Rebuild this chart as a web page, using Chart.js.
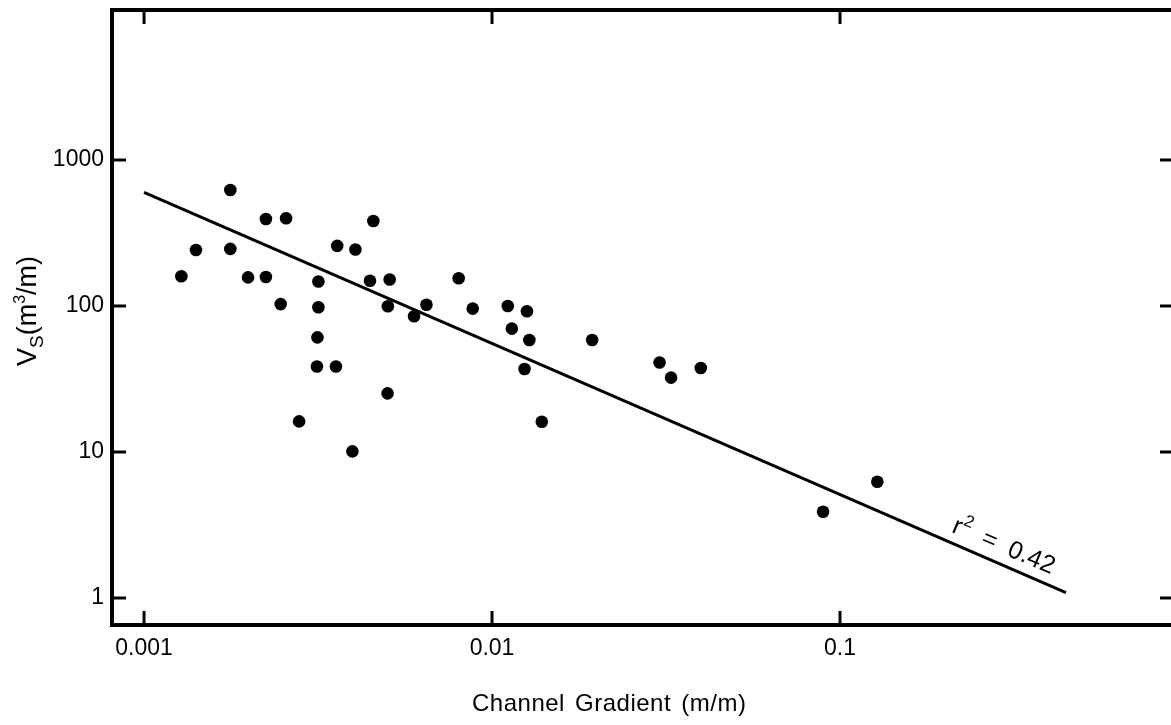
<!DOCTYPE html>
<html><head><meta charset="utf-8">
<script src="https://cdn.jsdelivr.net/npm/chart.js@4.4.0/dist/chart.umd.min.js"></script>
<style>
html,body{margin:0;padding:0;background:#fff;overflow:hidden;}
#wrap{width:1171px;height:725px;overflow:hidden;position:relative;background:#fff;}
canvas{display:block;}
</style></head><body>
<div id="wrap"><canvas id="c" width="1180" height="725" style="width:1180px;height:725px"></canvas></div>
<script>
// Channel gradient (m/m) of each observation
const gradient = [0.00128,0.00141,0.00177,0.00177,0.00199,0.00224,0.00224,0.00247,0.00256,0.00279,
  0.00317,0.00317,0.00315,0.00314,0.00356,0.00359,0.00397,0.00405,0.00446,0.00456,
  0.00501,0.00502,0.00508,0.00597,0.00648,0.00802,0.0088,0.0111,0.0114,0.0124,
  0.0126,0.0128,0.0139,0.0194,0.0303,0.0327,0.0398,0.0894,0.128];
// Vs (m3/m) of each observation
const volume = [160,242,623,246,157,394,158,103,399,16.2,
  147,98,61,38.5,38.5,258,10.1,244,149,382,
  25.2,99.5,152,85,102,155,96,100,70,37,
  92,58.5,16.1,58.5,41,32.3,37.6,3.9,6.26];
// regression line end points
const fitX = [0.001, 0.446];
const fitY = [601, 1.087];
// axes
const xTicks = [0.001, 0.01, 0.1];
const yTicks = [1, 10, 100, 1000];
const xRange = [0.000809, 0.9055];
const yRange = [0.6531, 10651];
const xTitle = 'Channel Gradient (m/m)';
const rAnchor = [0.295, 2.25];
const FONT = '"Liberation Sans", Arial, Helvetica, sans-serif';

const scatterPts = gradient.map((g, i) => ({x: g, y: volume[i]}));
const fitPts = fitX.map((g, i) => ({x: g, y: fitY[i]}));

const decor = {
  id: 'decor',
  afterDraw(chart) {
    const {ctx, chartArea: a, scales: {x, y}} = chart;
    ctx.save();
    ctx.strokeStyle = '#000';
    ctx.fillStyle = '#000';
    ctx.lineCap = 'butt';
    // frame
    ctx.lineWidth = 4;
    ctx.beginPath();
    ctx.moveTo(a.left, a.bottom); ctx.lineTo(a.left, a.top);
    ctx.lineTo(a.right, a.top); ctx.lineTo(a.right, a.bottom); ctx.closePath();
    ctx.stroke();
    // inward ticks
    ctx.lineWidth = 3;
    const seg = (x1, y1, x2, y2) => { ctx.beginPath(); ctx.moveTo(x1, y1); ctx.lineTo(x2, y2); ctx.stroke(); };
    xTicks.forEach(v => { const p = x.getPixelForValue(v); seg(p, a.bottom, p, a.bottom - 14); seg(p, a.top, p, a.top + 14); });
    yTicks.forEach(v => { const p = y.getPixelForValue(v); seg(a.left, p, a.left + 14, p); seg(a.right, p, a.right - 13, p); });
    // x title
    ctx.font = '24px ' + FONT;
    ctx.textAlign = 'left';
    ctx.textBaseline = 'alphabetic';
    try { ctx.letterSpacing = '0.5px'; ctx.wordSpacing = '3px'; } catch (e) {}
    ctx.fillText(xTitle, 472, 711);
    try { ctx.letterSpacing = '0px'; ctx.wordSpacing = '0px'; } catch (e) {}
    // y title: V_S(m³/m)
    ctx.save();
    ctx.translate(36, 366);
    ctx.rotate(-Math.PI / 2);
    let cx = 0;
    const piece = (t, size, dy) => { ctx.font = size + 'px ' + FONT; ctx.fillText(t, cx, dy); cx += ctx.measureText(t).width; };
    piece('V', 27, 0);
    piece('S', 19, 7);
    piece('(m', 27, 0);
    piece('3', 16, -11);
    piece('/m)', 27, 0);
    ctx.restore();
    // r² label along the fit line
    const x0 = x.getPixelForValue(fitX[0]), y0 = y.getPixelForValue(fitY[0]);
    const x1 = x.getPixelForValue(fitX[1]), y1 = y.getPixelForValue(fitY[1]);
    const ang = Math.atan2(y1 - y0, x1 - x0) - 0.01;
    ctx.save();
    ctx.translate(x.getPixelForValue(rAnchor[0]), y.getPixelForValue(rAnchor[1]));
    ctx.rotate(ang);
    ctx.textBaseline = 'middle';
    const parts = [['r', 25, 0], ['2', 17, -9], ['  =  0.42', 25, 0]];
    let w = 0;
    parts.forEach(p => { ctx.font = p[1] + 'px ' + FONT; w += ctx.measureText(p[0]).width; });
    cx = -w / 2;
    parts.forEach(p => { ctx.font = p[1] + 'px ' + FONT; ctx.fillText(p[0], cx, p[2]); cx += ctx.measureText(p[0]).width; });
    ctx.restore();
    ctx.restore();
  }
};

new Chart(document.getElementById('c'), {
  type: 'scatter',
  data: {
    datasets: [
      {data: scatterPts, backgroundColor: '#000', borderWidth: 0, pointRadius: 6.3, pointHoverRadius: 6.3},
      {type: 'line', data: fitPts, showLine: true, borderColor: '#000', borderWidth: 3, pointRadius: 0, fill: false}
    ]
  },
  options: {
    responsive: false,
    animation: false,
    events: [],
    layout: {padding: {top: 10, right: 7, bottom: 0, left: 0}},
    plugins: {legend: {display: false}, tooltip: {enabled: false}},
    scales: {
      x: {
        type: 'logarithmic', min: xRange[0], max: xRange[1], bounds: 'data',
        grid: {display: false, drawTicks: false}, border: {display: false},
        afterBuildTicks: s => { s.ticks = xTicks.map(v => ({value: v})); },
        afterFit: s => { s.height = 100; s.paddingLeft = 0; s.paddingRight = 0; },
        ticks: {color: '#000', padding: 10, autoSkip: false, maxRotation: 0, font: {family: FONT, size: 23}, callback: v => String(v)}
      },
      y: {
        type: 'logarithmic', min: yRange[0], max: yRange[1], bounds: 'data',
        grid: {display: false, drawTicks: false}, border: {display: false},
        afterBuildTicks: s => { s.ticks = yTicks.map(v => ({value: v})); },
        afterFit: s => { s.width = 112; s.paddingTop = 0; s.paddingBottom = 0; },
        ticks: {color: '#000', padding: 8, autoSkip: false, font: {family: FONT, size: 23}, callback: v => String(v)}
      }
    }
  },
  plugins: [decor]
});
</script>
</body></html>
